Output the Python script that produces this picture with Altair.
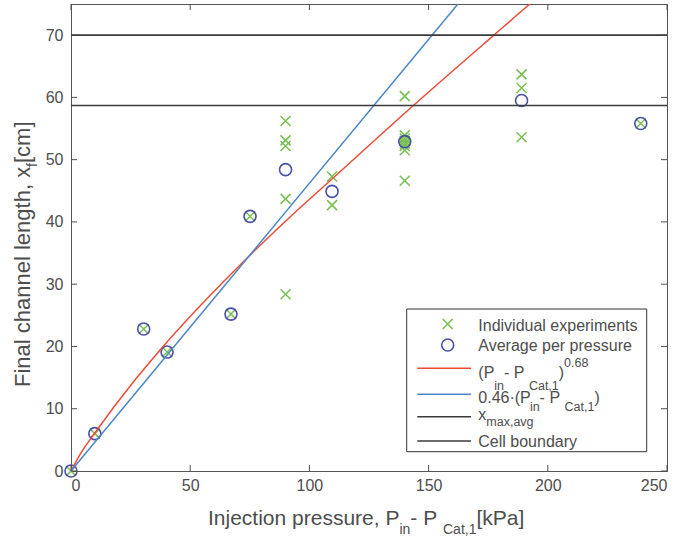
import altair as alt
import pandas as pd

# ---------------- data ----------------
exp_pressure = [0, 10, 30.5, 40.3, 67.1, 75.1, 90, 90, 90, 90, 90, 109.5, 109.5,
                140, 140, 140, 140, 140, 140, 140, 140, 189, 189, 189, 239]
exp_length = [0, 6.0, 22.8, 19.1, 25.2, 40.9, 56.2, 53.1, 52.2, 43.7, 28.4, 47.3, 42.7,
              60.2, 53.9, 53.4, 53.0, 52.6, 52.2, 51.5, 46.6, 63.7, 61.5, 53.6, 55.8]

avg_pressure = [0, 10, 30.5, 40.3, 67.1, 75.1, 90, 109.5, 140, 189, 239]
avg_length = [0, 6.0, 22.8, 19.1, 25.2, 40.9, 48.4, 44.9, 52.9, 59.5, 55.8]

power_fit_x = [0, 4, 10, 26.8, 37.3, 74.4, 91.9, 109.5, 143.6, 177.4, 192.5, 200]
power_fit_y = [0, 2.8, 6.1, 14.6, 19.4, 34.4, 40.8, 46.9, 58.7, 70.0, 75.0, 77.4]

linear_fit_x = [0, 162.3, 170]
linear_fit_y = [0, 75.0, 78.2]

hlines = [58.7, 70.0]  # x_max,avg and cell boundary

x_ticks = [0, 50, 100, 150, 200, 250]
y_ticks = [0, 10, 20, 30, 40, 50, 60, 70]

legend_labels = ["Individual experiments", "Average per pressure"]

# ---------------- styling ----------------
W, H = 596, 467
FONT = "Liberation Sans"
TXT = "#4d4d4d"
GREEN = "#77bf50"
NAVY = "#4a4fa8"
RED = "#ee4a38"
BLUE = "#4a86c8"
BLACK = "#3a3a3a"
SP = "\u00a0"

AW = {' ': 278, SP: 278, '(': 333, ')': 333, ',': 278, '-': 333, '.': 278, '[': 278,
      ']': 278, '\u00b7': 278, '0': 556, '1': 556, '2': 556, '3': 556, '4': 556,
      '5': 556, '6': 556, '7': 556, '8': 556, '9': 556, 'A': 667, 'C': 722, 'F': 611,
      'I': 278, 'P': 667, 'a': 556, 'b': 556, 'c': 500, 'd': 556, 'e': 556, 'f': 278,
      'g': 556, 'h': 556, 'i': 222, 'j': 222, 'k': 500, 'l': 222, 'm': 833, 'n': 556,
      'o': 556, 'p': 556, 'r': 333, 's': 500, 't': 278, 'u': 556, 'v': 500, 'x': 500,
      'y': 500}


def tw(s, fs):
    return sum(AW.get(c, 556) for c in s) / 1000.0 * fs


one = pd.DataFrame({"a": [0]})


def piece(text, x, y, fs, angle=0):
    kw = dict(font=FONT, fontSize=fs, color=TXT, align="left", baseline="alphabetic")
    if angle:
        kw["angle"] = angle
    return alt.Chart(one).mark_text(**kw).encode(
        x=alt.value(x), y=alt.value(y), text=alt.value(text.replace(" ", SP)))


def compose(parts, x0, y0, vertical=False):
    """parts: list of (text, fontsize, baseline_shift)"""
    layers = []
    pos = 0.0
    for text, fs, shift in parts:
        if vertical:
            layers.append(piece(text, x0 + shift, y0 - pos, fs, 270))
        else:
            layers.append(piece(text, x0 + pos, y0 + shift, fs))
        pos += tw(text, fs)
    return layers


xs = alt.Scale(domain=[0, 250], nice=False, zero=False)
ys = alt.Scale(domain=[0, 75], nice=False, zero=False)

exp_df = pd.DataFrame({"p": exp_pressure, "l": exp_length})
avg_df = pd.DataFrame({"p": avg_pressure, "l": avg_length})
pow_df = pd.DataFrame({"p": power_fit_x, "l": power_fit_y})
lin_df = pd.DataFrame({"p": linear_fit_x, "l": linear_fit_y})
h_df = pd.DataFrame({"l": hlines})
xt_df = pd.DataFrame({"t": x_ticks})
yt_df = pd.DataFrame({"t": y_ticks})

XPATH = "M-1,-1L1,1M-1,1L1,-1"

crosses = alt.Chart(exp_df).mark_point(shape=XPATH, size=100, filled=False,
                                       stroke=GREEN, strokeWidth=1.5, opacity=1).encode(
    x=alt.X("p:Q", scale=xs, axis=alt.Axis(values=x_ticks, title=None, ticks=False,
                                           grid=False, labelPadding=6, format="d")),
    y=alt.Y("l:Q", scale=ys, axis=alt.Axis(values=y_ticks, title=None, ticks=False,
                                           grid=False, labelPadding=8, format="d")),
)

circles = alt.Chart(avg_df).mark_point(shape="circle", size=144, filled=False,
                                       stroke=NAVY, strokeWidth=1.6, opacity=1).encode(
    x=alt.X("p:Q", scale=xs), y=alt.Y("l:Q", scale=ys))

red_line = alt.Chart(pow_df).mark_line(color=RED, strokeWidth=1.5, clip=True,
                                       interpolate="monotone").encode(
    x=alt.X("p:Q", scale=xs), y=alt.Y("l:Q", scale=ys))

blue_line = alt.Chart(lin_df).mark_line(color=BLUE, strokeWidth=1.5, clip=True).encode(
    x=alt.X("p:Q", scale=xs), y=alt.Y("l:Q", scale=ys))

h_rules = alt.Chart(h_df).mark_rule(color=BLACK, strokeWidth=1.6).encode(
    y=alt.Y("l:Q", scale=ys), x=alt.value(0), x2=alt.value(W))

TK = 6
tick_b = alt.Chart(xt_df).mark_rule(color=TXT, strokeWidth=1).encode(
    x=alt.X("t:Q", scale=xs), y=alt.value(H), y2=alt.value(H - TK))
tick_t = alt.Chart(xt_df).mark_rule(color=TXT, strokeWidth=1).encode(
    x=alt.X("t:Q", scale=xs), y=alt.value(0), y2=alt.value(TK))
tick_l = alt.Chart(yt_df).mark_rule(color=TXT, strokeWidth=1).encode(
    y=alt.Y("t:Q", scale=ys), x=alt.value(0), x2=alt.value(TK))
tick_r = alt.Chart(yt_df).mark_rule(color=TXT, strokeWidth=1).encode(
    y=alt.Y("t:Q", scale=ys), x=alt.value(W - TK), x2=alt.value(W))

# ---------------- legend (pixel layout inside plot area) ----------------
LX0, LX1, LY0, LY1 = 335.7, 575.7, 305, 447.7
legend_box = alt.Chart(one).mark_rect(fill="white", stroke="#333333", strokeWidth=1).encode(
    x=alt.value(LX0), x2=alt.value(LX1), y=alt.value(LY0), y2=alt.value(LY1))

SYMX = 376.7
leg_cross = alt.Chart(one).mark_point(shape=XPATH, size=100, filled=False, stroke=GREEN,
                                      strokeWidth=1.5, opacity=1).encode(
    x=alt.value(SYMX), y=alt.value(320))
leg_circle = alt.Chart(one).mark_point(shape="circle", size=144, filled=False, stroke=NAVY,
                                       strokeWidth=1.6, opacity=1).encode(
    x=alt.value(SYMX), y=alt.value(341))


def leg_line(color, y):
    return alt.Chart(one).mark_rule(color=color, strokeWidth=1.5).encode(
        x=alt.value(346.3), x2=alt.value(400), y=alt.value(y))


TX = 407.3
FS, SS = 16, 12.5
leg_text = []
leg_text += compose([(legend_labels[0], FS, 0)], TX, 327)
leg_text += compose([(legend_labels[1], FS, 0)], TX, 347)
leg_text += compose([("(P", FS, 0), ("in", SS, 12), (" - P", FS, 0), ("Cat,1", SS, 12),
                     (")", FS, 0), ("0.68", SS, -11)], TX, 373.6)
leg_text += compose([("0.46\u00b7(P", FS, 0), ("in", SS, 8), (" - P", FS, 0),
                     ("Cat,1", SS, 8), (")", FS, 0)], TX, 399)
leg_text += compose([("x", FS, 0), ("max,avg", SS, 5.7)], TX, 416)
leg_text += compose([("Cell boundary", FS, 0)], TX, 442.7)

# ---------------- axis titles ----------------
TF, TS = 21, 14
x_title = compose([("Injection pressure, P", TF, 0), ("in", TS, 8.5), (" - P", TF, 0),
                   ("Cat,1", TS, 8.5), (" [kPa]", TF, 0)], 137, 521)
y_title = compose([("Final channel length, x", 22, 0), ("f", TS, 7), (" [cm]", 22, 0)],
                  -41, 383, vertical=True)

chart = alt.layer(
    crosses, circles, red_line, blue_line, h_rules,
    tick_b, tick_t, tick_l, tick_r,
    legend_box, leg_cross, leg_circle,
    leg_line(RED, 364.3), leg_line(BLUE, 390.3), leg_line(BLACK, 412.7), leg_line(BLACK, 437),
    *leg_text, *x_title, *y_title,
).properties(
    width=W, height=H,
    autosize=alt.AutoSizeParams(type="none"),
    padding={"left": 71, "top": 4, "right": 679 - 71 - W, "bottom": 538 - 4 - H},
    background="white",
).configure_view(
    stroke="#555555", strokeWidth=1
).configure_axis(
    labelFont=FONT, labelFontSize=16, labelColor=TXT, domainColor="#555555",
    domainWidth=1
)

chart.save("out.html", embed_options={"renderer": "svg", "actions": False})
